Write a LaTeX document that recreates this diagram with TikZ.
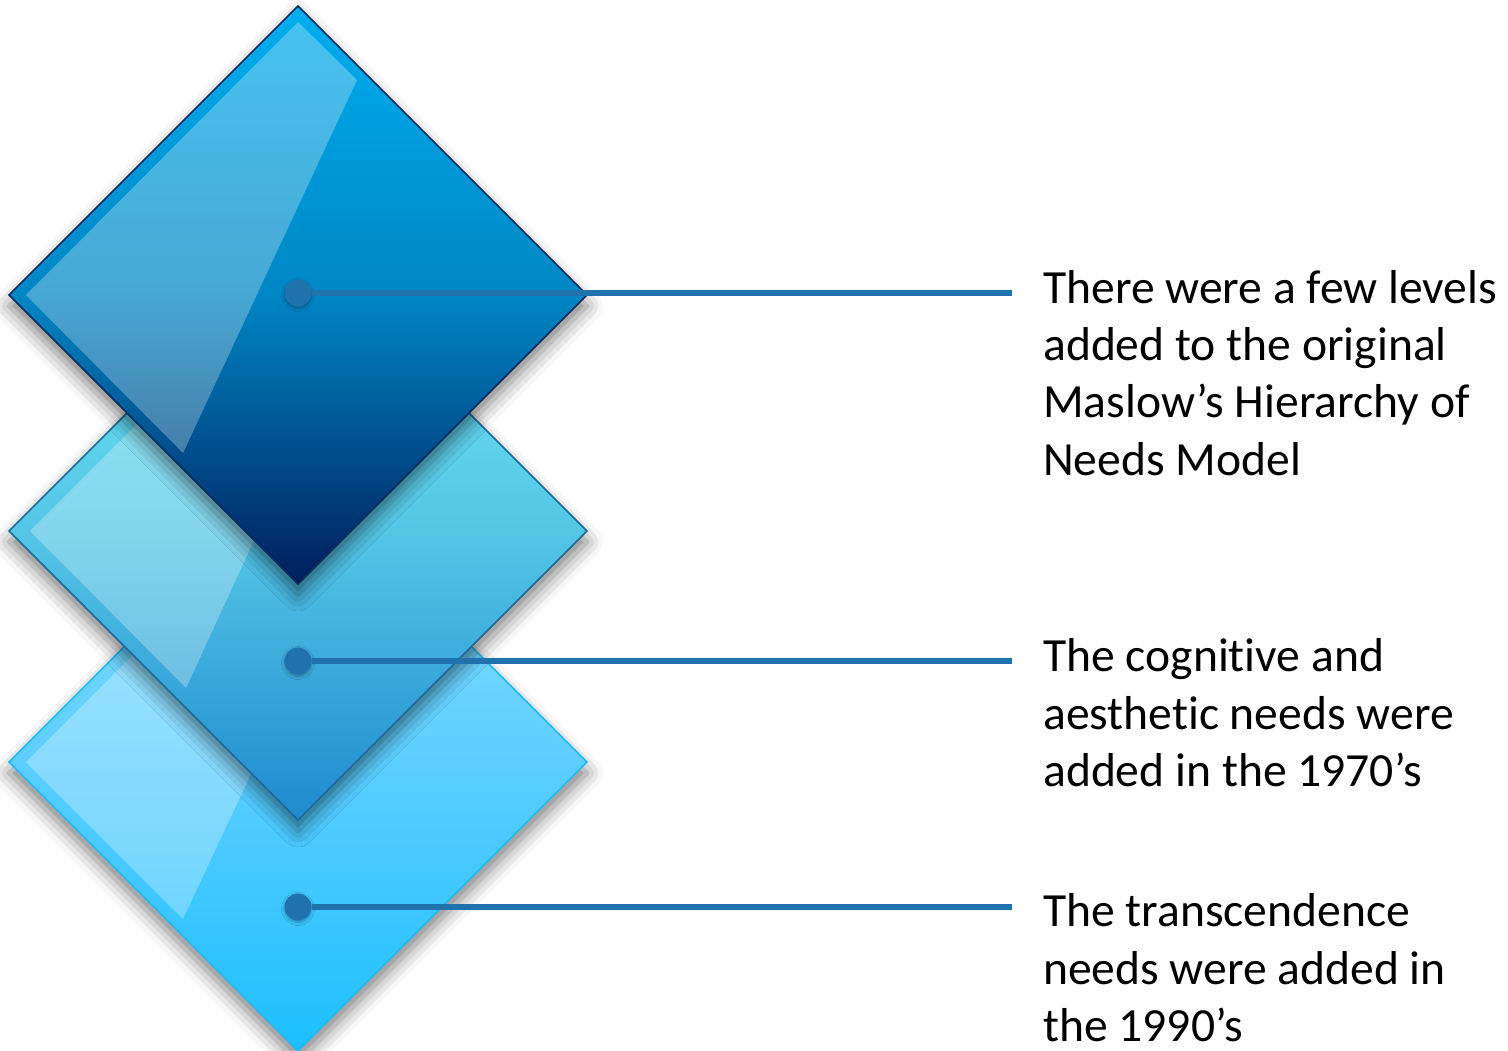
\documentclass[tikz,border=0pt]{standalone}
\usepackage{fontspec}
\setmainfont[Ligatures=NoCommon]{Carlito}
\usetikzlibrary{shapes.geometric,shadows.blur}
\definecolor{linkblue}{HTML}{1F72AC}
\definecolor{topA}{HTML}{00AEEF}
\definecolor{topB}{HTML}{0086C4}
\definecolor{topC}{HTML}{001E5C}
\definecolor{topEdge}{HTML}{0A2A5C}
\definecolor{midA}{HTML}{70E8F6}
\definecolor{midB}{HTML}{55C6E6}
\definecolor{midC}{HTML}{1F8ACE}
\definecolor{midEdge}{HTML}{1B6A9A}
\definecolor{lowA}{HTML}{8EE0FF}
\definecolor{lowB}{HTML}{5CCEFF}
\definecolor{lowC}{HTML}{1CBFFF}
\definecolor{lowEdge}{HTML}{22BAF5}
\begin{document}
\begin{tikzpicture}[x=1pt,y=-1pt,
  dia/.style={diamond, aspect=1, minimum width=578pt, minimum height=578pt,
    inner sep=0pt, outer sep=0pt, line width=1.5pt,
    blur shadow={shadow xshift=0pt, shadow yshift=-11pt,
      shadow blur radius=16pt, shadow opacity=50}},
  gloss/.style={fill=white, fill opacity=0.28},
  bullet/.style={circle, fill=linkblue, minimum size=27pt, inner sep=0pt,
    blur shadow={shadow xshift=0pt, shadow yshift=-2pt,
      shadow blur radius=3pt, shadow opacity=30}},
  link/.style={draw=linkblue, line width=5.5pt},
  caption/.style={anchor=base west, align=left, inner sep=0pt,
    font=\fontsize{47.6pt}{57.3pt}\selectfont}]
\useasboundingbox (0,0) rectangle (1508,1051);
% bottom diamond
\node[dia, draw=lowEdge, top color=lowA, bottom color=lowC, middle color=lowB] (d3) at (298,762) {};
\path[gloss] (26,762) -- (298,490) -- (357,548) -- (183,919) -- cycle;
% middle diamond
\node[dia, draw=midEdge, top color=midA, bottom color=midC, middle color=midB] (d2) at (298,531) {};
\path[gloss] (30,531) -- (298,263) -- (357,317) -- (186,688) -- cycle;
% top diamond
\node[dia, draw=topEdge, top color=topA, bottom color=topC, middle color=topB] (d1) at (298,295) {};
\path[gloss] (26,295) -- (298,22) -- (357,80) -- (183,453) -- cycle;
% connectors
\coordinate (e1) at (1012,293);
\coordinate (e2) at (1012,661);
\coordinate (e3) at (1012,907);
\node[bullet] (p1) at (298,293) {};
\node[bullet] (p2) at (298,661) {};
\node[bullet] (p3) at (298,907) {};
\draw[link] (p1) -- (e1);
\draw[link] (p2) -- (e2);
\draw[link] (p3) -- (e3);
% texts (anchored at the baseline of their last line)
\node[caption] (t1) at (1043,475) {There were a few levels\\added to the original\\Maslow’s Hierarchy of\\Needs Model};
\node[caption] (t2) at (1043,786.5) {The cognitive and\\aesthetic needs were\\added in the 1970’s};
\node[caption] (t3) at (1043,1041.5) {The transcendence\\needs were added in\\the 1990’s};
\end{tikzpicture}
\end{document}
